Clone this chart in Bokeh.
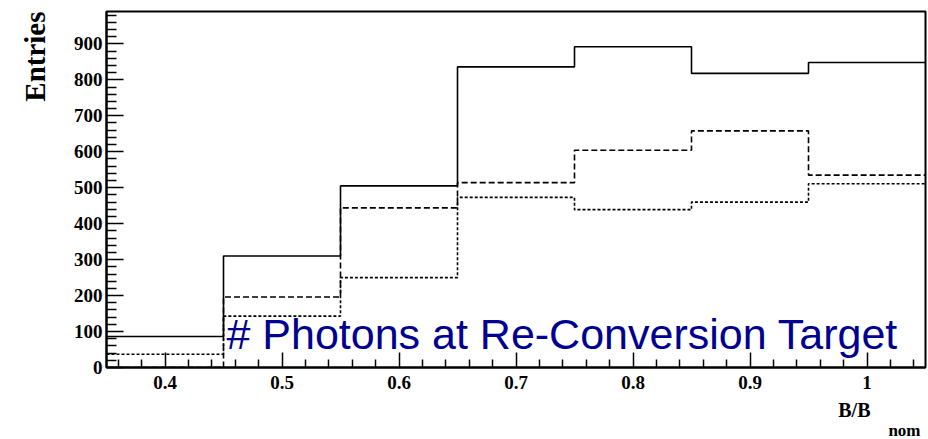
from bokeh.plotting import figure
from bokeh.models import Range1d, FixedTicker, Label, Title
from bokeh.embed import file_html
from bokeh.resources import INLINE

# Bin centres of B/B_nom (bin width 0.1) and entries per bin for three samples
bin_centers = [0.4, 0.5, 0.6, 0.7, 0.8, 0.9, 1.0]
entries_solid = [86, 310, 505, 836, 892, 818, 848]
entries_dashed = [0, 196, 444, 514, 604, 658, 535]
entries_dotted = [37, 143, 250, 473, 439, 460, 511]

y_ticks = [0, 100, 200, 300, 400, 500, 600, 700, 800, 900]
y_tick_labels = ["0", "100", "200", "300", "400", "500", "600", "700", "800", "900"]
x_ticks = [0.4, 0.5, 0.6, 0.7, 0.8, 0.9, 1.0]
x_tick_labels = ["0.4", "0.5", "0.6", "0.7", "0.8", "0.9", "1"]

bin_width = 0.1
x_lo, x_hi = 0.35, 1.05
y_lo, y_hi = 0, 990

p = figure(width=928, height=439, output_backend="svg", toolbar_location=None,
           x_range=Range1d(x_lo, x_hi), y_range=Range1d(y_lo, y_hi),
           min_border_left=105, min_border_right=3, min_border_top=11,
           min_border_bottom=72)
p.xgrid.visible = False
p.ygrid.visible = False
p.background_fill_color = "white"
p.border_fill_color = "white"
p.outline_line_color = "black"
p.outline_line_width = 2

# Histogram outlines: edges of each bin plus the closing edge
edges = [c - bin_width / 2 for c in bin_centers] + [bin_centers[-1] + bin_width / 2]


def draw_hist(values, dash):
    p.step(x=edges, y=list(values) + [values[-1]], mode="after",
           line_color="black", line_width=1.6, line_dash=dash)


draw_hist(entries_solid, "solid")
draw_hist(entries_dashed, "6 3")
draw_hist(entries_dotted, "3 2")

# ROOT-style inward ticks
minor_y = [v for v in range(0, 1000, 20) if v % 100 != 0]
minor_x = [round(0.36 + 0.02 * i, 2) for i in range(35)]
minor_x = [v for v in minor_x if abs(v * 10 - round(v * 10)) > 1e-6]

p.yaxis.ticker = FixedTicker(ticks=y_ticks, minor_ticks=minor_y)
p.xaxis.ticker = FixedTicker(ticks=x_ticks, minor_ticks=minor_x)
p.yaxis.major_label_overrides = dict(zip(y_ticks, y_tick_labels))
p.xaxis.major_label_overrides = dict(zip(x_ticks, x_tick_labels))

for ax in (p.xaxis[0], p.yaxis[0]):
    ax.axis_line_color = "black"
    ax.axis_line_width = 2
    ax.major_tick_line_color = "black"
    ax.minor_tick_line_color = "black"
    ax.major_tick_line_width = 1.5
    ax.minor_tick_line_width = 1.5
    ax.major_tick_out = 0
    ax.minor_tick_out = 0
    ax.major_label_text_font = "Liberation Serif"
    ax.major_label_text_font_style = "bold"
    ax.major_label_text_font_size = "19px"
    ax.major_label_text_color = "black"

p.yaxis.major_tick_in = 17
p.yaxis.minor_tick_in = 10
p.yaxis.major_label_standoff = 4
p.xaxis.major_tick_in = 15
p.xaxis.minor_tick_in = 8
p.xaxis.major_label_standoff = 8

# Axis titles, ROOT style: pushed to the far end of each axis
p.add_layout(Title(text="Entries", align="right", offset=0, standoff=36,
                   vertical_align="top",
                   text_font="Liberation Serif", text_font_style="bold",
                   text_font_size="29px", text_color="black"), "left")
p.add_layout(Title(text="B/B", align="right", offset=55, standoff=10,
                   text_font="Liberation Serif", text_font_style="bold",
                   text_font_size="20px", text_color="black"), "below")
p.add_layout(Title(text="nom", align="right", offset=5, standoff=-13,
                   text_font="Liberation Serif", text_font_style="bold",
                   text_font_size="17px", text_color="black"), "below")

# Plot caption inside the frame
p.add_layout(Label(x=0.4525, y=92, text="# Photons at Re-Conversion Target",
                   text_font="Liberation Sans", text_font_size="43px",
                   text_align="left", text_baseline="alphabetic", text_color="#000090"))

open("out.html", "w").write(file_html(p, INLINE))
